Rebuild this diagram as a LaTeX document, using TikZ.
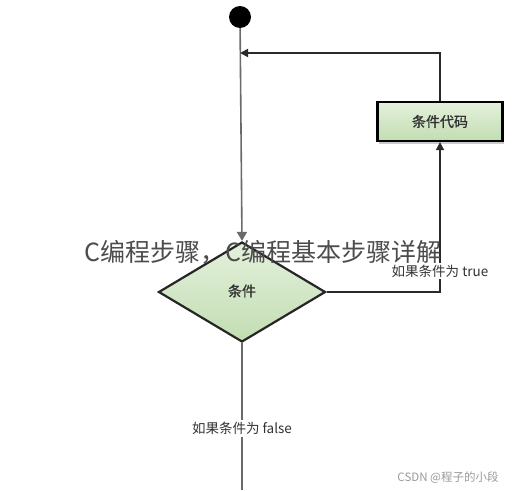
\documentclass[tikz,border=0pt]{standalone}
\usepackage{fontspec}
\newfontfamily\cjk{Noto Sans CJK SC}
\newfontfamily\cjkb[FakeBold=1.2]{Noto Sans CJK SC}
\usetikzlibrary{shapes.geometric,arrows.meta,shadows}
\definecolor{lineDark}{HTML}{2A2A2A}
\definecolor{lineGray}{HTML}{6A6A6A}
\definecolor{greenA}{HTML}{E4F1DC}
\definecolor{greenB}{HTML}{C2DDB2}
\tikzset{
  conn/.style={draw=lineDark, line width=1.7pt},
  tip/.style={-{Triangle[length=8pt,width=8pt]}},
  lbl/.style={fill=white, inner sep=2pt, font=\cjk\fontsize{13.5}{15}\selectfont, text=black!80},
  codebox/.style={draw=black, line width=2.2pt, top color=greenA, bottom color=greenB, minimum width=125pt, minimum height=39pt, inner sep=0pt, font=\cjkb\fontsize{14}{16}\selectfont, text=black!80, drop shadow={shadow xshift=1pt, shadow yshift=-2.5pt, fill=black!35, opacity=0.6}},
  decision/.style={diamond, draw=black!85, line width=2.2pt, top color=greenA, bottom color=greenB, minimum width=167pt, minimum height=100pt, inner sep=0pt},
  startdot/.style={circle, fill=black, minimum size=22pt, inner sep=0pt}
}
\begin{document}
\begin{tikzpicture}[x=1pt,y=-1pt]
\useasboundingbox (0,0) rectangle (527,490);
\node[startdot] (start) at (240,17) {};
\node[decision] (dia) at (242,292) {};
\node[font=\cjkb\fontsize{14}{16}\selectfont, text=black!80] (dialbl) at (242,291) {条件};
\node[codebox] (code) at (440,121.5) {条件代码};
\coordinate (join) at (240,53);
\coordinate (bottom) at (242,490);
\draw[draw=lineGray, line width=1.6pt, -{Triangle[length=9pt,width=10pt]}] (start) -- (dia.north);
\draw[conn, tip] (dia.east) -| node[pos=0.57, lbl] (truelbl) {如果条件为 true} (code.south);
\draw[conn, tip] (code.north) |- (join);
\draw[draw=lineGray, line width=1.7pt] (dia.south) -- node[pos=0.58, lbl] (falselbl) {如果条件为 false} (bottom);
\node[font=\cjk\fontsize{25}{28}\selectfont, text=black!70, inner sep=0pt] (wm) at (263,252) {C编程步骤，C编程基本步骤详解};
\node[font=\cjk\fontsize{11.5}{13}\selectfont, text=black!40, inner sep=0pt] (csdn) at (448,478) {CSDN @程子的小段};
\end{tikzpicture}
\end{document}
